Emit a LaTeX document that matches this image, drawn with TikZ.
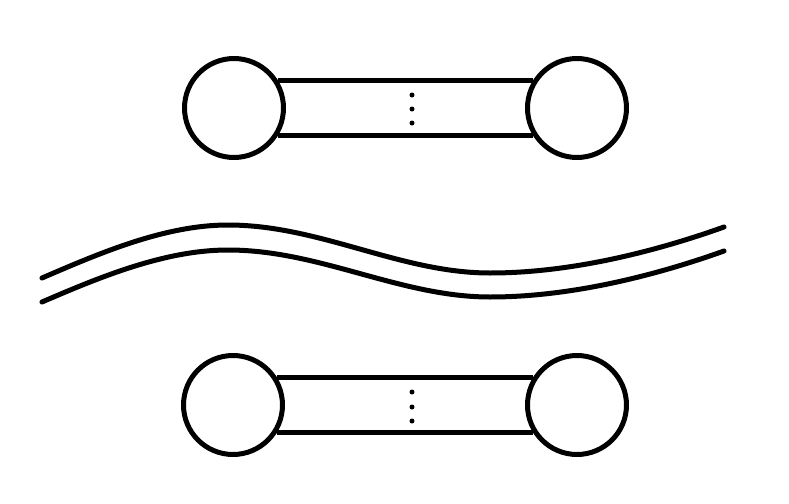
\documentclass[tikz,border=0pt]{standalone}
\begin{document}
\begin{tikzpicture}[x=0.02cm,y=-0.02cm,
  ball/.style={draw=black,line width=0.1cm,circle,minimum size=1.98cm,inner sep=0pt,fill=white},
  bar/.style={line width=0.1cm},
  dotn/.style={circle,fill=black,minimum size=0.1cm,inner sep=0pt},
  wave/.style={line width=0.1cm,line cap=round}]
\useasboundingbox (0,0) rectangle (789,504);
% top dumbbell
\node[ball] (tl) at (234,108) {};
\node[ball] (tr) at (577,108) {};
\draw[bar] (tl.32) -- (tr.148);
\draw[bar] (tl.-32) -- (tr.-148);
\node[dotn] (td1) at (412,95) {};
\node[dotn] (td2) at (412,109) {};
\node[dotn] (td3) at (412,123) {};
% bottom dumbbell
\node[ball] (bl) at (233,405) {};
\node[ball] (br) at (577,405) {};
\draw[bar] (bl.32) -- (br.148);
\draw[bar] (bl.-32) -- (br.-148);
\node[dotn] (bd1) at (412,392) {};
\node[dotn] (bd2) at (412,407) {};
\node[dotn] (bd3) at (412,421) {};
% wavy double line
\draw[wave] (42,278) .. controls (100,253) and (165,225) .. (228,225)
  .. controls (320,225) and (400,273) .. (490,273)
  .. controls (570,273) and (654,252) .. (724,227);
\draw[wave] (42,302) .. controls (100,277) and (165,250) .. (228,250)
  .. controls (320,250) and (400,297) .. (490,297)
  .. controls (570,297) and (654,276) .. (724,251);
\end{tikzpicture}
\end{document}
